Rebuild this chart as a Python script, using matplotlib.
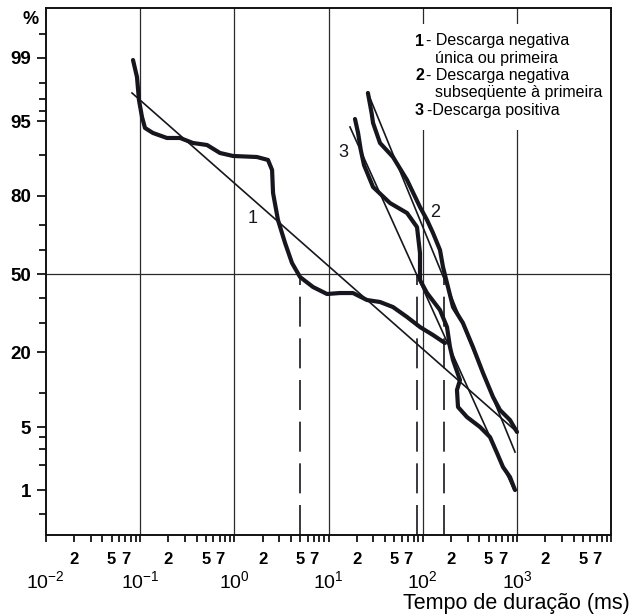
import math
from statistics import NormalDist
import numpy as np
import matplotlib
matplotlib.use("Agg")
import matplotlib.pyplot as plt
from matplotlib.patches import Rectangle

plt.rcParams['font.family'] = ['Liberation Sans', 'DejaVu Sans']

# curva 1 - descarga negativa unica ou primeira (ms, %)
c1_ms = [0.0843, 0.0929, 0.0975, 0.105, 0.113, 0.137, 0.193, 0.266, 0.365, 0.514,
         0.706, 0.970, 1.74, 2.28, 2.52, 2.58, 2.91, 3.46, 4.10, 4.99,
         6.85, 9.64, 13.2, 18.2, 25.6, 35.2, 48.3, 68.1, 93.5, 128.5, 172]
c1_pct = [98.93, 98.29, 96.93, 95.43, 94.18, 93.53, 92.82, 92.82, 92.05, 91.73,
          90.34, 89.78, 89.58, 88.99, 86.83, 80.81, 71.93, 63.06, 54.71, 48.71,
          44.44, 41.49, 41.9, 41.9, 38.99, 38.17, 36.13, 32.2, 28.43, 25.59, 22.9]

# curva 2 - descarga negativa subsequente
c2_ms = [26.2, 28.7, 29.7, 35.2, 48.3, 68.1, 93.5, 111, 128.5, 152.4,
         164, 180.8, 209.4, 267, 341, 436, 557, 660, 843, 1000]
c2_pct = [97.42, 95.8, 94.78, 92.05, 89.58, 84.4, 76.43, 71.93, 67.03, 60.18,
          53.0, 46.14, 36.13, 29.91, 21.62, 14.36, 9.30, 7.18, 5.82, 4.47]

# curva 3 - descarga positiva
c3_ms = [19.1, 20.6, 22.0, 23.8, 29.7, 44.9, 68.1, 86.9, 93.5, 93.5,
         111, 152.4, 180.8, 194.5, 209.4, 248.4, 230.7, 236.6, 294.8, 405,
         517, 614, 710, 843, 953]
c3_pct = [95.22, 93.53, 90.88, 87.94, 82.52, 77.73, 74.4, 69.3, 58.9, 47.43,
          41.9, 34.94, 28.43, 21.62, 17.76, 12.72, 10.62, 7.64, 6.20, 5.0,
          3.98, 2.71, 1.90, 1.45, 1.01]

# retas log-normais ajustadas
fit1_ms, fit1_pct = [0.0822, 1000], [97.42, 4.47]
fit2_ms, fit2_pct = [26.2, 953], [97.42, 2.78]
fit3_ms, fit3_pct = [16.9, 929], [94.3, 1.01]

# medianas (tracejado)
med_ms = [4.99, 86.9, 168]

y_major = [1, 5, 20, 50, 80, 95, 99]
y_minor = [0.5, 2, 3, 4, 10, 30, 40, 60, 70, 90, 96, 97, 98, 99.5]
decades = [-2, -1, 0, 1, 2, 3, 4]
minor_mult = [2, 3, 4, 5, 6, 7, 8, 9]
minor_lab = {2: '2', 5: '5', 7: '7'}

legend_lines = [("1", "- Descarga negativa"), ("", "única ou primeira"),
                ("2", "- Descarga negativa"), ("", "subseqüente à primeira"),
                ("3", "-Descarga positiva")]

nd = NormalDist()


def fwd(p):
    p = np.clip(np.asarray(p, dtype=float) / 100.0, 1e-9, 1 - 1e-9)
    return np.vectorize(nd.inv_cdf, otypes=[float])(p)


def inv(z):
    z = np.asarray(z, dtype=float)
    return np.vectorize(lambda v: 50.0 * (1 + math.erf(v / math.sqrt(2))), otypes=[float])(z)


W, H = 633, 614
fig = plt.figure(figsize=(W / 100, H / 100), dpi=100)
ax = fig.add_axes([45.75 / W, 1 - 535 / H, (611.25 - 45.75) / W, (535 - 8) / H])
ax.set_xscale('log')
ax.set_yscale('function', functions=(fwd, inv))
ax.set_xlim(1e-2, 1e4)
ax.set_ylim(inv(-2.806), inv(2.860))

ink = '#16161e'
for d in decades[1:-1]:
    ax.axvline(10.0 ** d, color='#2a2a2a', lw=0.9, zorder=1)
ax.axhline(50, color='#2a2a2a', lw=0.9, zorder=1)
ax.vlines(med_ms, inv(-2.806), 50, color=ink, lw=1.2, linestyles=(0, (18, 7)), zorder=1)

for xs, ys in [(fit1_ms, fit1_pct), (fit2_ms, fit2_pct), (fit3_ms, fit3_pct)]:
    ax.plot(xs, ys, color=ink, lw=1.2, zorder=2)
for xs, ys in [(c1_ms, c1_pct), (c2_ms, c2_pct), (c3_ms, c3_pct)]:
    ax.plot(xs, ys, color=ink, lw=3.0, solid_joinstyle='round', solid_capstyle='round', zorder=3)

ax.text(1.58, 72.3, '1', fontsize=13, color=ink, ha='center', va='center')
ax.text(134.9, 74.7, '2', fontsize=13, color=ink, ha='center', va='center')
ax.text(14.3, 90.5, '3', fontsize=13, color=ink, ha='center', va='center')

# caixa branca da legenda
ax.add_patch(Rectangle(((398 - 45.75) / 565.5, (535 - 130) / 527), (608 - 398) / 565.5, 106 / 527,
                       transform=ax.transAxes, facecolor='white', edgecolor='none', zorder=1.5))

for i, (num, txt) in enumerate(legend_lines):
    yy = 1 - (41 + i * 17.3) / H
    if num:
        fig.text(415 / W, yy, num, fontsize=11.5, fontweight='bold', va='center', ha='left')
        fig.text((426 if num != "3" else 427) / W, yy, txt, fontsize=11.5, va='center', ha='left')
    else:
        fig.text(435 / W, yy, txt, fontsize=11.5, va='center', ha='left')

# eixo y
ax.set_yticks(y_major, [('%g' % v) for v in y_major])
ax.set_yticks(y_minor, minor=True)
ax.tick_params(axis='y', which='major', direction='out', length=6.5, width=1.2, pad=4,
               labelsize=13.5)
ax.tick_params(axis='y', which='minor', direction='out', length=5, width=1.2)
for lab in ax.get_yticklabels():
    lab.set_fontweight('bold')
fig.text(31 / W, 1 - 20 / H, '%', fontsize=13, fontweight='bold', ha='center', va='center')

# eixo x
ax.set_xticks([10.0 ** d for d in decades],
              [(r'$\mathregular{10^{%d}}$' % d) if d < 4 else '' for d in decades])
mpos, mlab = [], []
for d in decades[:-1]:
    for m in minor_mult:
        mpos.append(m * 10.0 ** d)
        mlab.append(minor_lab.get(m, ''))
ax.set_xticks(mpos, mlab, minor=True)
ax.tick_params(axis='x', which='major', direction='out', length=5, width=1.2, pad=20,
               labelsize=14)
ax.tick_params(axis='x', which='minor', direction='out', length=5, width=1.2, pad=7,
               labelsize=12)
for lab in ax.get_xticklabels(minor=True):
    lab.set_fontweight('bold')

for s in ax.spines.values():
    s.set_linewidth(1.4)
    s.set_color('#111111')

fig.text(630 / W, 1 - 603 / H, 'Tempo de duração (ms)', fontsize=15.5, ha='right', va='center')

fig.savefig('out.png', dpi=100)
